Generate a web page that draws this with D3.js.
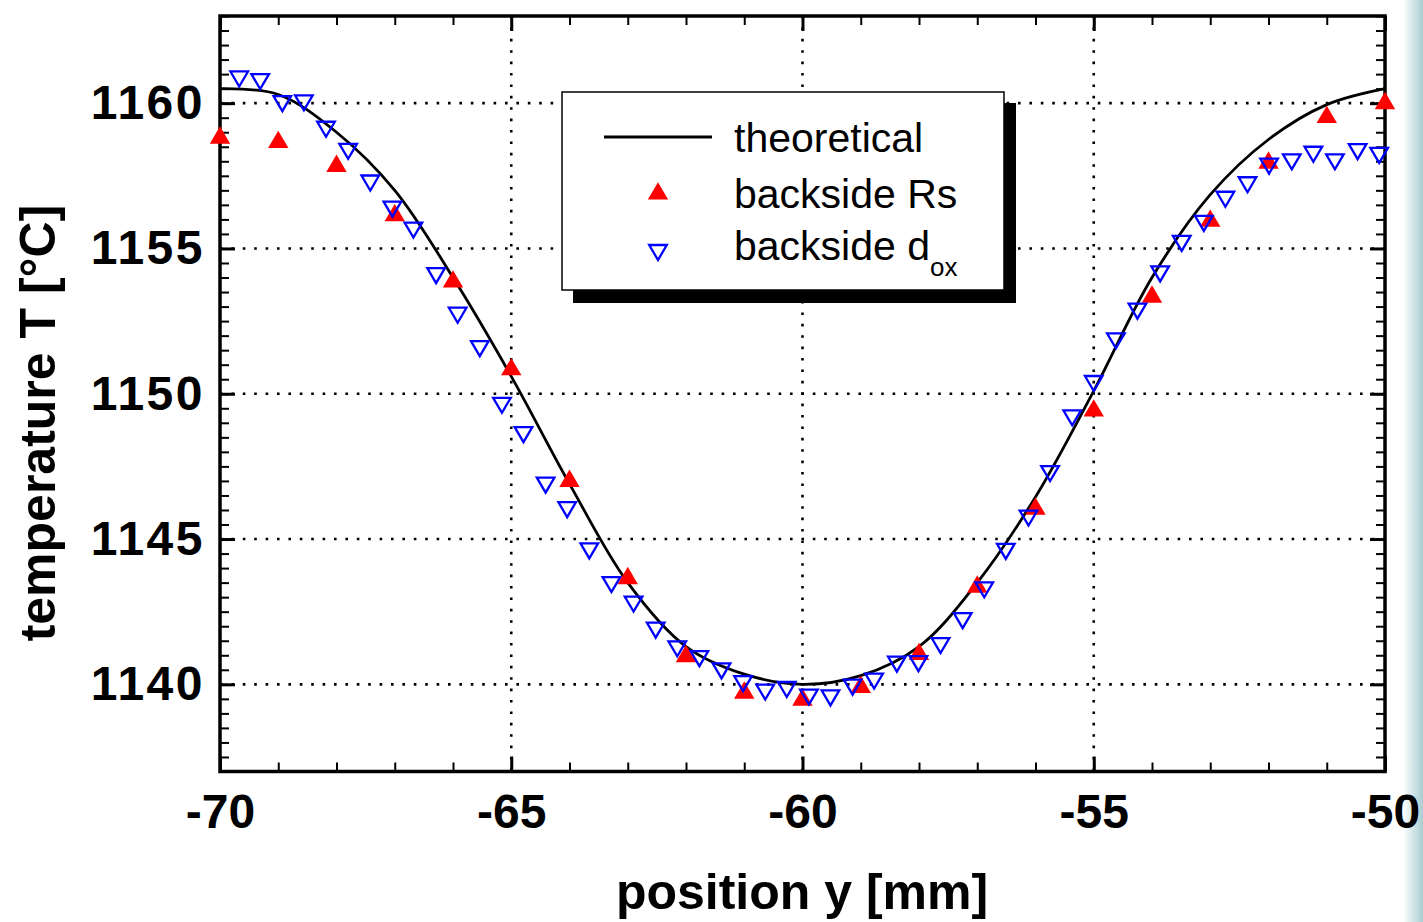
<!DOCTYPE html>
<html>
<head>
<meta charset="utf-8">
<script src="https://d3js.org/d3.v7.min.js"></script>
<style>
  body { margin: 0; background: #fff; }
  svg { display: block; }
</style>
</head>
<body>
<script>
// theoretical curve
var posTheory = [-70, -69, -68, -67, -66, -65, -64, -63, -62, -61, -60,
                 -59, -58, -57, -56, -55, -54, -53, -52, -51, -50];
var tempTheory = [1160.5, 1160.3, 1159.0, 1157.0, 1154.0, 1150.6, 1146.9, 1143.5, 1141.3, 1140.35, 1140.0,
                  1140.3, 1141.3, 1143.5, 1146.45, 1150.1, 1154.0, 1156.85, 1158.75, 1159.95, 1160.5];

// backside Rs (red, filled)
var posRs = [-70, -69, -68, -67, -66, -65, -64, -63, -62, -61, -60,
             -59, -58, -57, -56, -55, -54, -53, -52, -51, -50];
var tempRs = [1158.9, 1158.75, 1157.93, 1156.23, 1153.95, 1150.93, 1147.09, 1143.74, 1141.06, 1139.8, 1139.56,
              1140.0, 1141.13, 1143.45, 1146.13, 1149.51, 1153.43, 1156.04, 1158.04, 1159.61, 1160.09];

// backside d_ox (blue, open)
var posDox = [-69.67, -69.31, -68.93, -68.56, -68.18, -67.80, -67.42, -67.04, -66.68, -66.29,
              -65.92, -65.54, -65.16, -64.79, -64.41, -64.04, -63.66, -63.28, -62.90, -62.52,
              -62.15, -61.77, -61.39, -61.02, -60.64, -60.27, -59.89, -59.52, -59.14, -58.77,
              -58.38, -58.01, -57.63, -57.25, -56.88, -56.51, -56.12, -55.75, -55.37, -55.00,
              -54.62, -54.25, -53.86, -53.49, -53.11, -52.74, -52.36, -51.99, -51.60, -51.23,
              -50.86, -50.47, -50.10];
var tempDox = [1160.85, 1160.76, 1160.0, 1160.03, 1159.12, 1158.36, 1157.27, 1156.37, 1155.65, 1154.08,
               1152.72, 1151.57, 1149.62, 1148.61, 1146.87, 1146.03, 1144.61, 1143.45, 1142.78, 1141.88,
               1141.24, 1140.9, 1140.48, 1140.04, 1139.75, 1139.84, 1139.58, 1139.55, 1139.92, 1140.13,
               1140.71, 1140.73, 1141.35, 1142.21, 1143.27, 1144.59, 1145.74, 1147.27, 1149.19, 1150.37,
               1151.84, 1152.86, 1154.14, 1155.19, 1155.88, 1156.71, 1157.21, 1157.85, 1158.0, 1158.26,
               1158.0, 1158.35, 1158.22];

var xMajor = [-70, -65, -60, -55, -50];
var yMajor = [1140, 1145, 1150, 1155, 1160];

var legendLabels = ["theoretical", "backside Rs", "backside d"];

var w = 1423,
    h = 922,
    pLeft = 220, pRight = 1385,
    pTop = 16, pBottom = 771.5;

var font = "'Liberation Sans', Arial, Helvetica, sans-serif";

var svg = d3.select("body")
            .append("svg")
            .attr("width", w)
            .attr("height", h);

// faint slide background at the right edge
var grad = svg.append("defs").append("linearGradient")
    .attr("id", "edge").attr("x1", "0").attr("x2", "1");
grad.append("stop").attr("offset", "0").attr("stop-color", "#ffffff");
grad.append("stop").attr("offset", "1").attr("stop-color", "#a8cdd0");
svg.append("rect")
    .attr("x", 1403).attr("y", 0).attr("width", 20).attr("height", h)
    .attr("fill", "url(#edge)");

var x = d3.scaleLinear().domain([-70, -50]).range([pLeft, pRight]);
var y = d3.scaleLinear().domain([1137, 1163]).range([pBottom, pTop]);

// dotted grid
var grid = svg.append("g")
    .attr("stroke", "#000")
    .attr("stroke-width", 2.6)
    .attr("stroke-dasharray", "2.6 8.8");

grid.selectAll(".gx")
    .data(xMajor.slice(1, -1))
    .enter()
    .append("line")
    .attr("x1", function(d) { return x(d); })
    .attr("x2", function(d) { return x(d); })
    .attr("y1", pTop)
    .attr("y2", pBottom);

grid.selectAll(".gy")
    .data(yMajor)
    .enter()
    .append("line")
    .attr("x1", pLeft)
    .attr("x2", pRight)
    .attr("y1", function(d) { return y(d); })
    .attr("y2", function(d) { return y(d); });

// minor + major ticks, pointing inward on all four sides
function styleAxis(g, width) {
    g.select(".domain").remove();
    g.selectAll(".tick line").attr("stroke", "#000").attr("stroke-width", width);
}

var xMinor = d3.range(-70, -49, 1);
var yMinor = d3.range(1137, 1163.01, 0.5);

svg.append("g")
    .attr("transform", "translate(0," + pBottom + ")")
    .call(d3.axisBottom(x).tickValues(xMinor).tickSize(-9).tickFormat(""))
    .call(styleAxis, 2);
svg.append("g")
    .attr("transform", "translate(0," + pTop + ")")
    .call(d3.axisTop(x).tickValues(xMinor).tickSize(-9).tickFormat(""))
    .call(styleAxis, 2);
svg.append("g")
    .attr("transform", "translate(" + pLeft + ",0)")
    .call(d3.axisLeft(y).tickValues(yMinor).tickSize(-9).tickFormat(""))
    .call(styleAxis, 2);
svg.append("g")
    .attr("transform", "translate(" + pRight + ",0)")
    .call(d3.axisRight(y).tickValues(yMinor).tickSize(-9).tickFormat(""))
    .call(styleAxis, 2);

var xAxis = svg.append("g")
    .attr("transform", "translate(0," + pBottom + ")")
    .call(d3.axisBottom(x).tickValues(xMajor).tickSize(-15).tickPadding(22).tickFormat(d3.format("d")))
    .call(styleAxis, 3);
svg.append("g")
    .attr("transform", "translate(0," + pTop + ")")
    .call(d3.axisTop(x).tickValues(xMajor).tickSize(-15).tickFormat(""))
    .call(styleAxis, 3);
var yAxis = svg.append("g")
    .attr("transform", "translate(" + pLeft + ",0)")
    .call(d3.axisLeft(y).tickValues(yMajor).tickSize(-15).tickPadding(15).tickFormat(d3.format("d")))
    .call(styleAxis, 3);
svg.append("g")
    .attr("transform", "translate(" + pRight + ",0)")
    .call(d3.axisRight(y).tickValues(yMajor).tickSize(-15).tickFormat(""))
    .call(styleAxis, 3);

xAxis.selectAll("text")
    .text(function(d) { return String(d); })
    .attr("font-family", font)
    .attr("font-weight", "bold")
    .attr("font-size", "48px")
    .attr("fill", "#000");
yAxis.selectAll("text")
    .attr("font-family", font)
    .attr("font-weight", "bold")
    .attr("font-size", "48px")
    .attr("letter-spacing", "2.5px")
    .attr("fill", "#000");

// frame
svg.append("rect")
    .attr("x", pLeft)
    .attr("y", pTop)
    .attr("width", pRight - pLeft)
    .attr("height", pBottom - pTop)
    .attr("fill", "none")
    .attr("stroke", "#000")
    .attr("stroke-width", 3.5);

// axis titles
svg.append("text")
    .text("position y [mm]")
    .attr("x", 802)
    .attr("y", 909)
    .attr("text-anchor", "middle")
    .attr("font-family", font)
    .attr("font-weight", "bold")
    .attr("font-size", "50px")
    .attr("fill", "#000");

svg.append("text")
    .text("temperature T [°C]")
    .attr("transform", "translate(55,423) rotate(-90)")
    .attr("text-anchor", "middle")
    .attr("font-family", font)
    .attr("font-weight", "bold")
    .attr("font-size", "50px")
    .attr("fill", "#000");

// theoretical curve
var line = d3.line()
    .x(function(d, i) { return x(posTheory[i]); })
    .y(function(d) { return y(d); })
    .curve(d3.curveCatmullRom.alpha(0.5));

svg.append("path")
    .datum(tempTheory)
    .attr("d", line)
    .attr("fill", "none")
    .attr("stroke", "#000")
    .attr("stroke-width", 2.8);

var triUp = "M0,-8.8L10.2,8.6L-10.2,8.6Z";
var triDown = "M-8.8,-7L8.8,-7L0,8Z";

svg.selectAll(".rs")
    .data(tempRs)
    .enter()
    .append("path")
    .attr("class", "rs")
    .attr("d", triUp)
    .attr("transform", function(d, i) {
        return "translate(" + x(posRs[i]) + "," + y(d) + ")";
    })
    .attr("fill", "#ff0000");

svg.selectAll(".dox")
    .data(tempDox)
    .enter()
    .append("path")
    .attr("class", "dox")
    .attr("d", triDown)
    .attr("transform", function(d, i) {
        return "translate(" + x(posDox[i]) + "," + y(d) + ")";
    })
    .attr("fill", "none")
    .attr("stroke", "#0000ff")
    .attr("stroke-width", 2.3);

// legend with drop shadow
var legend = svg.append("g");
legend.append("rect")
    .attr("x", 573).attr("y", 103)
    .attr("width", 443).attr("height", 200)
    .attr("fill", "#000");
legend.append("rect")
    .attr("x", 562).attr("y", 92)
    .attr("width", 442).attr("height", 198)
    .attr("fill", "#fff")
    .attr("stroke", "#000")
    .attr("stroke-width", 1.5);

legend.append("line")
    .attr("x1", 604).attr("x2", 712)
    .attr("y1", 137).attr("y2", 137)
    .attr("stroke", "#000")
    .attr("stroke-width", 2.8);
legend.append("path")
    .attr("d", triUp)
    .attr("transform", "translate(658,191)")
    .attr("fill", "#ff0000");
legend.append("path")
    .attr("d", triDown)
    .attr("transform", "translate(658,252)")
    .attr("fill", "none")
    .attr("stroke", "#0000ff")
    .attr("stroke-width", 2.3);

var baselines = [152, 208, 260];
legend.selectAll(".lt")
    .data(legendLabels)
    .enter()
    .append("text")
    .attr("x", 734)
    .attr("y", function(d, i) { return baselines[i]; })
    .attr("font-family", font)
    .attr("font-size", "41px")
    .attr("fill", "#000")
    .text(function(d) { return d; })
    .filter(function(d, i) { return i === 2; })
    .append("tspan")
    .attr("dy", 16)
    .attr("font-size", "26px")
    .text("ox");
</script>
</body>
</html>
